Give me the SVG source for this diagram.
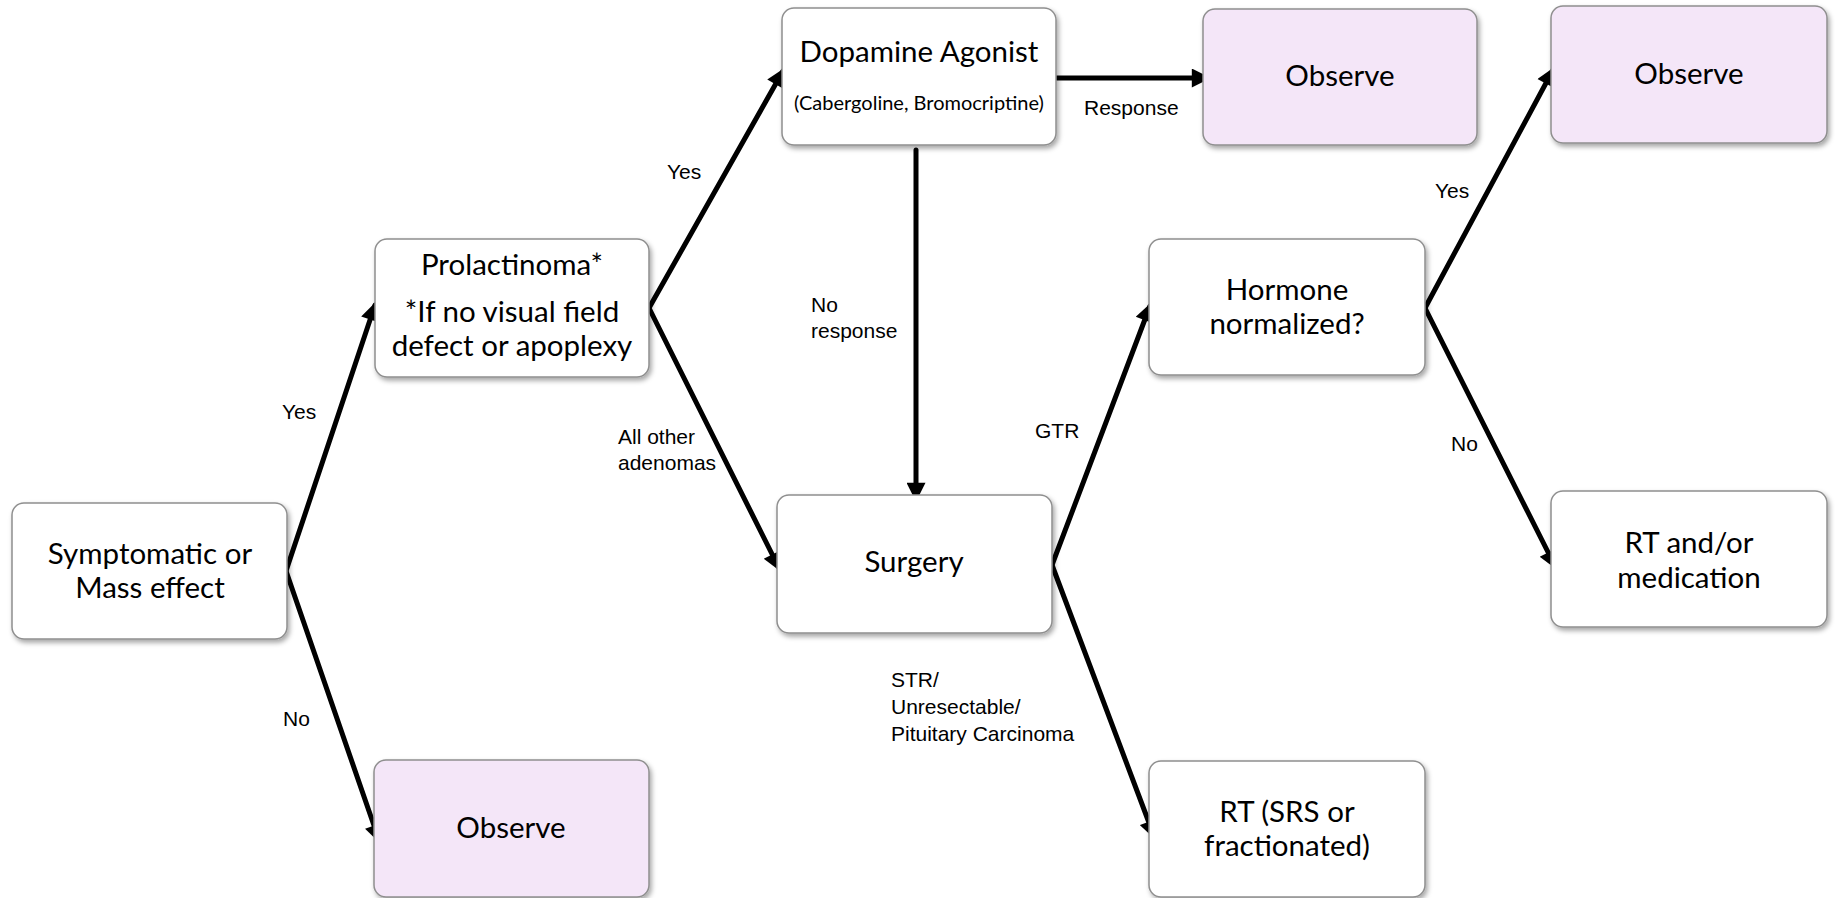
<svg xmlns="http://www.w3.org/2000/svg" width="1835" height="898" viewBox="0 0 1835 898">
<style>
.box{fill:#ffffff;stroke:#8f8f8f;stroke-width:1.5}
.obs{fill:#f4e6f8;stroke:#8f8f8f;stroke-width:1.5}
.nt{font-family:Lato,"Open Sans",sans-serif;font-size:29.5px;fill:#000;text-anchor:middle}
.st{font-family:Lato,"Open Sans",sans-serif;font-size:20px;fill:#000;text-anchor:middle}
.lb{font-family:"Liberation Sans",Arial,sans-serif;font-size:21px;fill:#000}
.ln{fill:none;stroke:#000;stroke-width:5;stroke-linecap:round}
</style>
<defs>
<filter id="sh" x="-10%" y="-10%" width="130%" height="130%">
<feDropShadow dx="2" dy="3" stdDeviation="2.5" flood-color="#000" flood-opacity="0.35"/>
</filter>
<marker id="ar" viewBox="0 0 10 10" refX="8" refY="5" markerWidth="4.4" markerHeight="3.8" orient="auto" markerUnits="strokeWidth">
<path d="M0,0 L10,5 L0,10 z" fill="#000"/>
</marker>
</defs>
<rect width="1835" height="898" fill="#fff"/>
<g id="connectors">
<path class="ln" d="M286,571 L375,305" marker-end="url(#ar)"/>
<path class="ln" d="M286,571 L379,840" marker-end="url(#ar)"/>
<path class="ln" d="M649,308 L783,71" marker-end="url(#ar)"/>
<path class="ln" d="M649,308 L779,568" marker-end="url(#ar)"/>
<path class="ln" d="M916,150 L916,498" marker-end="url(#ar)"/>
<path class="ln" d="M1056,78 L1207,78" marker-end="url(#ar)"/>
<path class="ln" d="M1052,565 L1150,306" marker-end="url(#ar)"/>
<path class="ln" d="M1052,565 L1154,836" marker-end="url(#ar)"/>
<path class="ln" d="M1425,308 L1553,70" marker-end="url(#ar)"/>
<path class="ln" d="M1425,308 L1555,566" marker-end="url(#ar)"/>
<text class="lb" x="282" y="419">Yes</text>
<text class="lb" x="283" y="726">No</text>
<text class="lb" x="667" y="179">Yes</text>
<text class="lb" x="811" y="312">No</text>
<text class="lb" x="811" y="338">response</text>
<text class="lb" x="618" y="444">All other</text>
<text class="lb" x="618" y="470">adenomas</text>
<text class="lb" x="1084" y="115">Response</text>
<text class="lb" x="1035" y="438">GTR</text>
<text class="lb" x="891" y="687">STR/</text>
<text class="lb" x="891" y="714">Unresectable/</text>
<text class="lb" x="891" y="741">Pituitary Carcinoma</text>
<text class="lb" x="1435" y="198">Yes</text>
<text class="lb" x="1451" y="451">No</text>
</g>
<g id="n-symptomatic">
<rect class="box" filter="url(#sh)" x="12" y="503" width="275" height="136" rx="12"/>
<text class="nt" x="150" y="564">Symptomatic or</text>
<text class="nt" x="150" y="598">Mass effect</text>
</g>
<g id="n-prolactinoma">
<rect class="box" filter="url(#sh)" x="375" y="239" width="274" height="138" rx="12"/>
<text class="nt" x="512" y="275">Prolactinoma*</text>
<text class="nt" x="512" y="322">*If no visual field</text>
<text class="nt" x="512" y="356">defect or apoplexy</text>
</g>
<g id="n-observe-bottom">
<rect class="obs" filter="url(#sh)" x="374" y="760" width="275" height="137" rx="12"/>
<text class="nt" x="511" y="838">Observe</text>
</g>
<g id="n-dopamine">
<rect class="box" filter="url(#sh)" x="782" y="8" width="274" height="137" rx="12"/>
<text class="nt" x="919" y="62">Dopamine Agonist</text>
<text class="st" x="919" y="110">(Cabergoline, Bromocriptine)</text>
</g>
<g id="n-observe-1">
<rect class="obs" filter="url(#sh)" x="1203" y="9" width="274" height="136" rx="12"/>
<text class="nt" x="1340" y="86">Observe</text>
</g>
<g id="n-surgery">
<rect class="box" filter="url(#sh)" x="777" y="495" width="275" height="138" rx="12"/>
<text class="nt" x="914" y="572">Surgery</text>
</g>
<g id="n-hormone">
<rect class="box" filter="url(#sh)" x="1149" y="239" width="276" height="136" rx="12"/>
<text class="nt" x="1287" y="300">Hormone</text>
<text class="nt" x="1287" y="334">normalized?</text>
</g>
<g id="n-rt-srs">
<rect class="box" filter="url(#sh)" x="1149" y="761" width="276" height="136" rx="12"/>
<text class="nt" x="1287" y="822">RT (SRS or</text>
<text class="nt" x="1287" y="856">fractionated)</text>
</g>
<g id="n-observe-2">
<rect class="obs" filter="url(#sh)" x="1551" y="6" width="276" height="137" rx="12"/>
<text class="nt" x="1689" y="84">Observe</text>
</g>
<g id="n-rt-med">
<rect class="box" filter="url(#sh)" x="1551" y="491" width="276" height="136" rx="12"/>
<text class="nt" x="1689" y="553">RT and/or</text>
<text class="nt" x="1689" y="588">medication</text>
</g>
</svg>
